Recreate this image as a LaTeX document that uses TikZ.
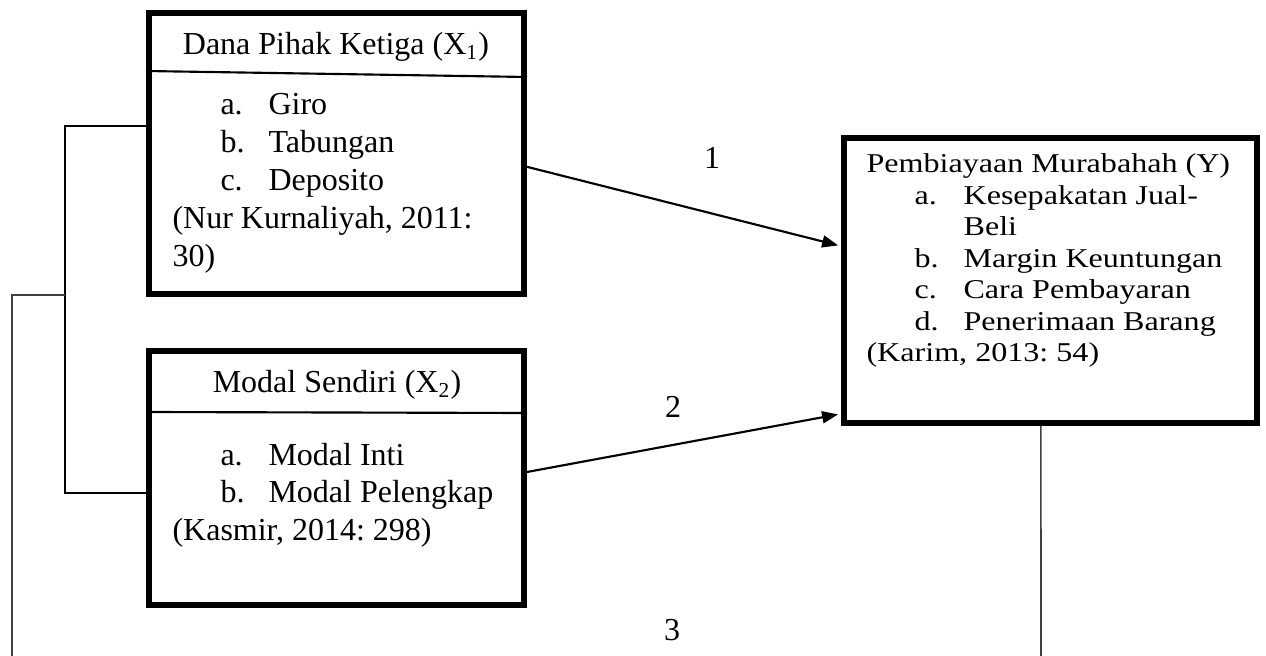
\documentclass[tikz,border=0pt]{standalone}
\usepackage{fontspec}
\setmainfont{Liberation Serif}
\newfontfamily\wideserif[FakeStretch=1.18]{Liberation Serif}
\usetikzlibrary{arrows.meta,fit}
\frenchspacing

\tikzset{
  varbox/.style={draw, line width=2.25pt, inner sep=0pt},
  divline/.style={line width=0.8pt},
  arr/.style={line width=0.8pt, -{Triangle[length=6pt,width=4.5pt]}, shorten >=1.1pt},
  bracket/.style={line width=0.45pt},
  longline/.style={line width=0.6pt, black!75},
  lbl/.style={font=\fontsize{12}{14.2}\selectfont},
  items/.style={anchor=base west, inner sep=0pt}
}

\begin{document}
\begin{tikzpicture}[x=0.375pt, y=-0.375pt]
    \useasboundingbox (0,0) rectangle (1266,656);

    \node[varbox, fit={(149,13) (524,294)}] (dpk) {};
    \node[varbox, fit={(149,351) (524,605)}] (ms) {};
    \node[varbox, fit={(844,138) (1257,423)}] (pm) {};

    \draw[divline] (dpk.west |- 0,71) -- (dpk.east |- 0,77);
    \draw[divline] (ms.west |- 0,412) -- (ms.east |- 0,413);

    \node[lbl, anchor=base] (dpktitle) at (336,55) {Dana Pihak Ketiga (X\textsubscript{1})};
    \node[lbl, items] (dpkitems) at (172,115) {\begin{tabular}[t]{@{\hspace{18pt}}p{18pt}@{}l}
        a. & Giro\\
        b. & Tabungan\\
        c. & Deposito\\
        \multicolumn{2}{@{}l}{(Nur Kurnaliyah, 2011:}\\
        \multicolumn{2}{@{}l}{30)}
      \end{tabular}};

    \node[lbl, anchor=base] (mstitle) at (337,393) {Modal Sendiri (X\textsubscript{2})};
    \node[lbl, items] (msitems) at (172,465) {\begin{tabular}[t]{@{\hspace{18pt}}p{18pt}@{}l}
        a. & Modal Inti\\
        b. & Modal Pelengkap\\
        \multicolumn{2}{@{}l}{(Kasmir, 2014: 298)}
      \end{tabular}};

    \node[items, font=\wideserif\fontsize{10.2}{11.8}\selectfont] (pmitems) at (866,173) {\begin{tabular}[t]{@{\hspace{18pt}}p{18.4pt}@{}l}
        \multicolumn{2}{@{}l}{Pembiayaan Murabahah (Y)}\\
        a. & Kesepakatan Jual-\\
           & Beli\\
        b. & Margin Keuntungan\\
        c. & Cara Pembayaran\\
        d. & Penerimaan Barang\\
        \multicolumn{2}{@{}l}{(Karim, 2013: 54)}
      \end{tabular}};

    \node[lbl] (n1) at (712,158) {1};
    \node[lbl] (n2) at (673,407) {2};
    \node[lbl] (n3) at (672,630) {3};

    \coordinate (join) at (65,295);
    \coordinate (leftend) at (12,656);
    \coordinate (rightend) at (1041,656);

    \draw[bracket] ([yshift=10.3pt]dpk.west) -| (join) |- ([yshift=-5.6pt]ms.west);
    \draw[longline] (join) -| (leftend);
    \draw[longline] ([xshift=-3.6pt]pm.south) -- (rightend);

    \draw[arr] ([yshift=-5pt]dpk.east) -- ([yshift=12.9pt]pm.west);
    \draw[arr] ([yshift=2.25pt]ms.east) -- ([yshift=-50pt]pm.west);
\end{tikzpicture}
\end{document}
